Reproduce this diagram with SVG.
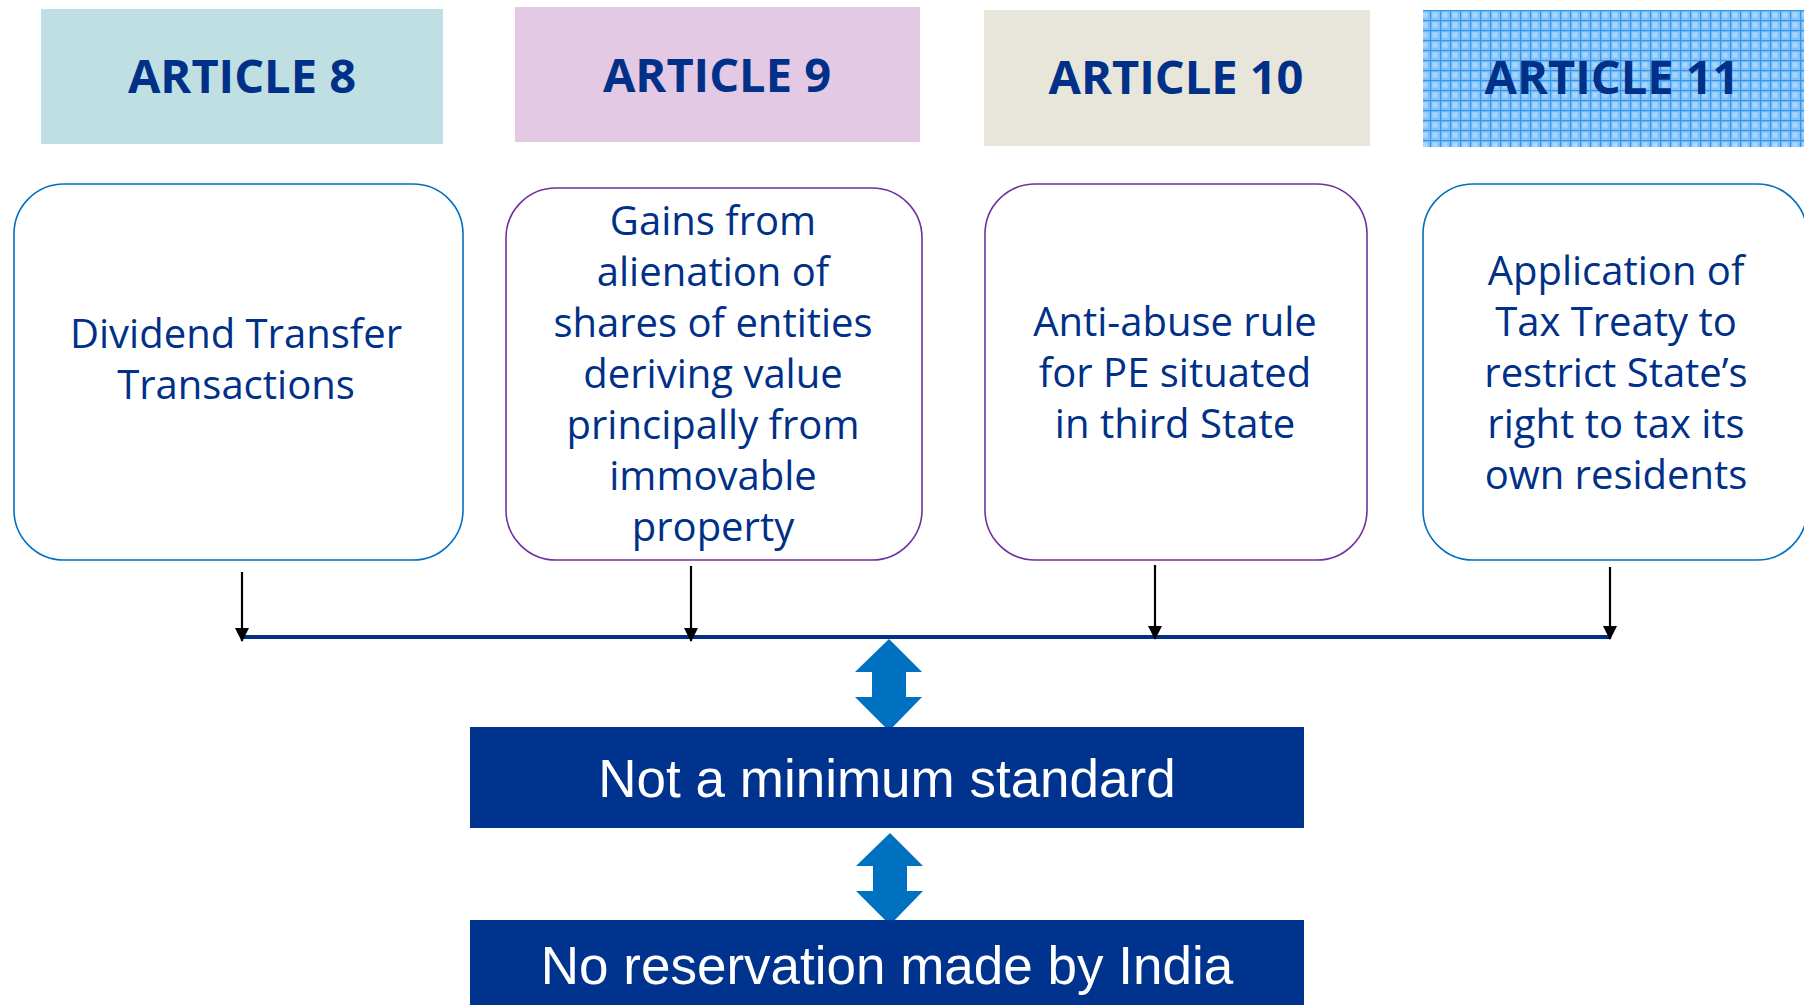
<svg xmlns="http://www.w3.org/2000/svg" width="1804" height="1005" viewBox="0 0 1804 1005">
<defs>
<style>
.hdr{font-family:"Open Sans","DejaVu Sans",sans-serif;font-weight:bold;font-size:47px;fill:#003087;text-anchor:middle}
.body{font-family:"Open Sans","DejaVu Sans",sans-serif;font-size:40px;fill:#003087;text-anchor:middle}
.card{fill:#ffffff;stroke-width:1.6}
.blue{stroke:#0070c0}
.purple{stroke:#7030a0}
.bar{fill:#00338d}
.bartxt{font-family:"Liberation Sans",Arial,sans-serif;font-size:53px;fill:#ffffff;text-anchor:middle}
.arr{stroke:#000;stroke-width:2.2;fill:none;marker-end:url(#ah)}
.dbl{fill:#0070c0}
</style>
<marker id="ah" markerWidth="14" markerHeight="14" refX="13" refY="7" orient="auto" markerUnits="userSpaceOnUse" viewBox="0 0 14 14">
<path d="M0,0 L14,7 L0,14 z" fill="#000"/>
</marker>
<pattern id="grid" width="10" height="10" patternUnits="userSpaceOnUse">
<rect width="10" height="10" fill="#86c4f8"/>
<rect x="2.5" y="2.5" width="5" height="5" fill="#a9d6fc"/>
<path d="M0,0.6 H10 M0.6,0 V10" stroke="#3396ee" stroke-width="1.2"/>
</pattern>
</defs>

<g id="article8-header"><rect x="41" y="9" width="402" height="135" fill="#c0dfe3"/><text class="hdr" x="242" y="93">ARTICLE 8</text></g>
<g id="article9-header"><rect x="515" y="7" width="405" height="135" fill="#e3c9e4"/><text class="hdr" x="717" y="92">ARTICLE 9</text></g>
<g id="article10-header"><rect x="984" y="10" width="386" height="136" fill="#e8e5da"/><text class="hdr" x="1176" y="94">ARTICLE 10</text></g>
<g id="article11-header"><rect x="1423" y="10" width="381" height="137" fill="url(#grid)"/><text class="hdr" x="1612" y="94">ARTICLE 11</text></g>

<g id="card8"><rect class="card blue" x="14" y="184" width="449" height="376" rx="50" ry="50"/>
<text class="body" x="236"><tspan x="236" y="348">Dividend Transfer</tspan><tspan x="236" y="399">Transactions</tspan></text></g>

<g id="card9"><rect class="card purple" x="506" y="188" width="416" height="372" rx="50" ry="50"/>
<text class="body"><tspan x="713" y="235">Gains from</tspan><tspan x="713" y="286">alienation of</tspan><tspan x="713" y="337">shares of entities</tspan><tspan x="713" y="388">deriving value</tspan><tspan x="713" y="439">principally from</tspan><tspan x="713" y="490">immovable</tspan><tspan x="713" y="541">property</tspan></text></g>

<g id="card10"><rect class="card purple" x="985" y="184" width="382" height="376" rx="50" ry="50"/>
<text class="body"><tspan x="1175" y="336">Anti-abuse rule</tspan><tspan x="1175" y="387">for PE situated</tspan><tspan x="1175" y="438">in third State</tspan></text></g>

<g id="card11"><rect class="card blue" x="1423" y="184" width="384" height="376" rx="50" ry="50"/>
<text class="body"><tspan x="1616" y="285">Application of</tspan><tspan x="1616" y="336">Tax Treaty to</tspan><tspan x="1616" y="387">restrict State’s</tspan><tspan x="1616" y="438">right to tax its</tspan><tspan x="1616" y="489">own residents</tspan></text></g>

<g id="connectors">
<line x1="242" y1="637" x2="1611" y2="637" stroke="#003087" stroke-width="4"/>
<line class="arr" x1="242" y1="572" x2="242" y2="641"/>
<line class="arr" x1="691" y1="566" x2="691" y2="641"/>
<line class="arr" x1="1155" y1="565" x2="1155" y2="639"/>
<line class="arr" x1="1610" y1="567" x2="1610" y2="639"/>
<path class="dbl" d="M889,639 L922,672 L906,672 L906,697 L922,697 L889,731 L855,697 L872,697 L872,672 L855,672 Z"/>
<path class="dbl" d="M890,833 L923,866 L907,866 L907,891 L923,891 L890,925 L856,891 L873,891 L873,866 L856,866 Z"/>
</g>

<g id="not-minimum-standard"><rect class="bar" x="470" y="727" width="834" height="101"/><text class="bartxt" x="887" y="797">Not a minimum standard</text></g>
<g id="no-reservation"><rect class="bar" x="470" y="920" width="834" height="90"/><text class="bartxt" x="887" y="984">No reservation made by India</text></g>
</svg>
